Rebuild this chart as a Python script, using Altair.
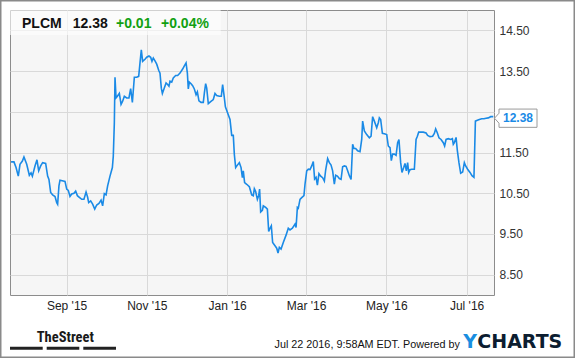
import altair as alt
import pandas as pd

# ---------------- data ----------------
ticker = "PLCM"
last_price = "12.38"
change_abs = "+0.01"
change_pct = "+0.04%"
footer_note = "Jul 22 2016, 9:58AM EDT.  Powered by"
brand_left = "TheStreet"
brand_y = "Y"
brand_rest = "CHARTS"

start_date = "2015-07-20"
# days after start_date of each sampled point
day_offsets = [
    0.8, 3.0, 4.6, 6.3, 7.6, 9.4, 10.6, 12.7, 14.7, 16.0,
    17.0, 19.0, 20.5, 21.8, 23.3, 24.8, 27.1, 28.6, 29.6, 30.9,
    32.4, 34.2, 35.5, 36.2, 37.2, 38.0, 40.5, 41.8, 43.1, 44.3,
    45.6, 46.9, 48.6, 49.9, 51.2, 52.7, 54.5, 56.2, 57.8, 59.0,
    59.8, 61.3, 62.8, 64.4, 65.9, 67.6, 69.2, 70.4, 71.7, 73.0,
    74.2, 76.0, 77.8, 78.5, 79.3, 79.8, 80.6, 81.6, 83.1, 84.4,
    85.6, 86.9, 88.7, 90.4, 91.7, 93.0, 94.5, 96.3, 97.8, 98.8,
    99.8, 100.8, 102.6, 103.9, 105.6, 106.9, 107.9, 108.9, 110.2, 111.5,
    113.0, 114.0, 115.0, 115.8, 117.0, 118.6, 119.8, 120.8, 121.6, 122.9,
    124.1, 125.9, 127.4, 129.2, 131.2, 132.5, 133.8, 134.8, 135.5, 136.3,
    137.6, 138.8, 140.1, 141.4, 142.4, 143.6, 145.2, 146.9, 147.7, 148.7,
    149.5, 150.7, 152.5, 154.5, 155.8, 157.1, 159.1, 160.6, 161.6, 162.6,
    163.7, 165.2, 167.2, 168.5, 169.7, 170.5, 171.5, 172.8, 174.3, 175.6,
    176.6, 177.3, 178.3, 179.9, 181.9, 183.7, 184.9, 185.7, 186.7, 188.0,
    189.0, 189.7, 190.5, 191.8, 192.5, 194.3, 195.6, 196.6, 197.6, 198.6,
    199.6, 201.4, 202.7, 203.7, 204.7, 206.0, 207.7, 209.8, 211.5, 212.8,
    214.6, 216.6, 217.4, 218.4, 219.1, 220.4, 221.7, 223.4, 224.2, 225.5,
    226.7, 228.0, 229.3, 230.5, 231.5, 232.6, 233.6, 234.8, 236.1, 237.6,
    238.9, 239.9, 241.4, 242.7, 244.0, 245.2, 246.5, 247.5, 248.8, 250.3,
    251.6, 252.8, 254.1, 255.4, 256.6, 257.9, 259.2, 260.4, 261.4, 262.7,
    264.2, 266.0, 267.3, 268.0, 269.3, 271.1, 273.1, 274.4, 275.6, 276.9,
    278.7, 279.9, 280.7, 281.7, 283.0, 284.5, 286.3, 287.5, 288.8, 289.8,
    290.8, 292.1, 293.4, 294.6, 295.6, 296.9, 297.9, 299.2, 300.2, 301.2,
    302.2, 303.0, 304.0, 305.3, 307.3, 308.6, 309.6, 310.6, 312.1, 314.1,
    316.2, 317.4, 319.2, 321.2, 322.5, 323.5, 324.8, 326.0, 327.6, 329.3,
    330.3, 331.4, 333.1, 334.9, 336.2, 336.9, 337.7, 339.0, 340.0, 341.2,
    342.5, 344.0, 345.3, 346.3, 347.8, 349.6, 351.1, 352.6, 353.7, 355.2,
    356.7, 358.5, 360.2, 361.8, 363.5, 365.3, 367.3,
]
prices = [
    11.27, 11.27, 11.13, 10.92, 11.21, 11.29, 11.39, 11.21, 10.94, 11.00,
    10.92, 11.17, 11.32, 11.05, 11.17, 11.25, 11.23, 10.92, 10.84, 10.52,
    10.46, 10.42, 10.27, 10.23, 10.68, 10.82, 10.80, 10.79, 10.60, 10.57,
    10.42, 10.48, 10.50, 10.55, 10.44, 10.40, 10.35, 10.35, 10.53, 10.40,
    10.27, 10.31, 10.23, 10.11, 10.21, 10.25, 10.33, 10.19, 10.49, 10.46,
    10.68, 10.92, 11.13, 11.41, 12.23, 13.35, 12.84, 12.88, 12.95, 12.68,
    12.76, 12.88, 12.84, 12.84, 13.07, 12.73, 13.35, 13.35, 13.37, 13.70,
    14.02, 13.74, 13.79, 13.84, 13.87, 13.84, 13.74, 13.82, 13.75, 13.67,
    13.52, 13.45, 13.08, 12.95, 13.06, 13.21, 13.17, 13.13, 13.25, 13.23,
    13.33, 13.39, 13.39, 13.45, 13.55, 13.63, 13.70, 13.45, 13.06, 13.23,
    13.19, 13.14, 13.06, 12.92, 12.99, 12.77, 12.73, 12.73, 12.96, 13.19,
    13.08, 12.70, 12.75, 12.80, 12.95, 12.90, 12.88, 12.88, 13.17, 12.92,
    12.62, 12.49, 12.31, 11.92, 11.92, 11.45, 11.13, 11.19, 11.25, 11.13,
    10.88, 11.05, 10.76, 10.72, 10.66, 10.46, 10.44, 10.61, 10.54, 10.35,
    10.44, 10.60, 10.04, 10.08, 10.19, 10.15, 10.11, 9.56, 9.64, 9.70,
    9.29, 9.21, 9.15, 9.03, 9.17, 9.13, 9.29, 9.47, 9.64, 9.60,
    9.64, 9.74, 9.66, 10.15, 10.13, 10.35, 10.39, 10.44, 10.72, 11.05,
    11.09, 11.08, 11.17, 11.28, 10.85, 10.89, 10.70, 10.98, 10.92, 10.88,
    10.80, 11.07, 11.35, 11.25, 11.19, 11.05, 10.72, 10.94, 10.92, 10.86,
    10.84, 11.15, 11.17, 11.16, 11.05, 10.93, 10.84, 11.70, 11.60, 11.60,
    11.54, 11.52, 11.82, 12.27, 12.03, 11.94, 11.86, 11.90, 12.38, 12.27,
    12.11, 12.23, 12.35, 12.31, 11.97, 11.96, 11.94, 11.66, 11.62, 11.30,
    11.46, 11.46, 11.43, 11.74, 11.82, 11.25, 11.01, 11.13, 11.23, 11.05,
    11.25, 11.01, 11.08, 11.09, 11.09, 11.82, 11.90, 12.00, 12.00, 12.00,
    11.98, 11.92, 11.89, 11.90, 11.97, 12.08, 11.98, 11.86, 11.82, 11.74,
    11.66, 11.82, 11.84, 11.82, 11.84, 11.70, 11.74, 11.87, 11.54, 11.25,
    10.99, 11.02, 11.25, 11.17, 11.09, 11.01, 10.93, 10.89, 12.27, 12.29,
    12.31, 12.33, 12.33, 12.34, 12.35, 12.38, 12.38,
]
y_ticks = [8.5, 9.5, 10.5, 11.5, 12.5, 13.5, 14.5]
hidden_y_label = 12.5  # covered by the last-price tag in the reference
x_tick_months = [(2015, 9), (2015, 11), (2016, 1), (2016, 3), (2016, 5), (2016, 7)]

assert len(day_offsets) == len(prices)

base = pd.Timestamp(start_date)
df = pd.DataFrame({
    "date": [(base + pd.Timedelta(days=d)).strftime("%Y-%m-%dT%H:%M:%SZ") for d in day_offsets],
    "price": prices,
})

# ---------------- styling ----------------
FONT = "Liberation Sans"
LINE_BLUE = "#1a8ae6"
GREEN = "#12a012"
GRID = "#d9d9d9"

x_enc = alt.X(
    "date:T",
    scale=alt.Scale(
        type="utc",
        domain=[
            alt.DateTime(year=2015, month=7, date=20, utc=True),
            alt.DateTime(year=2016, month=7, date=21, hours=20, utc=True),
        ],
    ),
    axis=alt.Axis(
        values=[alt.DateTime(year=y, month=m, date=1, utc=True) for y, m in x_tick_months],
        labelExpr="utcFormat(datum.value, \"%b '%y\")",
        title=None, grid=True, gridColor=GRID,
        ticks=False, domain=False, labelPadding=5, labelFontSize=12,
        labelColor="#222222", labelFont=FONT, labelFlush=False,
    ),
)
y_enc = alt.Y(
    "price:Q",
    scale=alt.Scale(domain=[8, 15], nice=False, zero=False),
    axis=alt.Axis(
        orient="right", values=y_ticks, title=None, grid=True,
        labelExpr=f"abs(datum.value - {hidden_y_label}) < 0.001 ? '' : format(datum.value, '.2f')",
        gridColor=GRID, ticks=False, domain=False, labelPadding=5,
        labelFontSize=12, labelColor="#333333", labelFont=FONT,
    ),
)

line = alt.Chart(df).mark_line(color=LINE_BLUE, strokeWidth=1.6).encode(x=x_enc, y=y_enc)

one = pd.DataFrame({"k": [0]})


def txt(text, x, y, **kw):
    return alt.Chart(one).mark_text(text=text, align=kw.pop("align", "left"),
                                    baseline=kw.pop("baseline", "alphabetic"), **kw).encode(
        x=alt.value(x), y=alt.value(y))


def box(x0, x1, y0, y1, **kw):
    return alt.Chart(one).mark_rect(**kw).encode(
        x=alt.value(x0), x2=alt.value(x1), y=alt.value(y0), y2=alt.value(y1))


header_box = box(0, 210.7, 0, 25, fill="white", opacity=0.6)
h1 = txt(ticker, 12, 18.3, font=FONT, fontSize=14, fontWeight="bold", color="#111111")
h2 = txt(last_price, 62.7, 18.3, font=FONT, fontSize=14, fontWeight="bold", color="#111111")
h3 = txt(change_abs, 106, 18.3, font=FONT, fontSize=14, fontWeight="bold", color=GREEN)
h4 = txt(change_pct, 151, 18.3, font=FONT, fontSize=14, fontWeight="bold", color=GREEN)

label_shape = ("M -1 0 L -0.788 -0.235 L -0.788 -0.43 L 1 -0.43 L 1 0.43 "
               "L -0.788 0.43 L -0.788 0.235 Z")
price_tag = alt.Chart(one).mark_point(
    shape=label_shape, filled=True, fill="white", stroke="#9a9a9a", strokeWidth=1,
    size=42.5 ** 2, opacity=1,
).encode(x=alt.value(505.75), y=alt.value(108.2))
price_txt = txt(last_price, 508, 108.4, align="center", baseline="middle", font=FONT,
                fontSize=12, fontWeight="bold", color=LINE_BLUE)

street = txt(brand_left, 26.7, 331.7,
             font="'Roboto Condensed', 'Liberation Sans Narrow', Roboto, sans-serif",
             fontSize=14.5, fontWeight="bold", color="#1a1a1a")
bars = [box(a, b, 336.7, 339.8, fill="#222222") for a, b in [(0, 32.7), (36.7, 69.3), (73.3, 106)]]

footer = txt(footer_note, 450, 338.2, align="right", font=FONT, fontSize=10.8, color="#111111")
yc1 = txt(brand_y, 453.3, 338.3, font="DejaVu Sans", fontSize=19, fontWeight="bold", color="#1a8ee0")
yc2 = txt(brand_rest, 467.3, 338.3, font="DejaVu Sans", fontSize=19, fontWeight="bold", color="#0c1d30")

frame = box(-9.25, 564.25, -9.25, 347.25, fillOpacity=0, stroke="#8a8a8a", strokeWidth=1.5)

chart = alt.layer(
    line, header_box, h1, h2, h3, h4, price_tag, price_txt,
    street, *bars, footer, yc1, yc2, frame,
).properties(
    width=484, height=285,
    padding={"left": 10, "top": 10, "right": 81, "bottom": 63},
    autosize=alt.AutoSizeParams(type="none"),
    background="white",
).configure_view(fill="#f6f6f6", stroke="#8c8c8c", strokeWidth=1)

chart.save("out.html", embed_options={"renderer": "svg", "actions": False})
